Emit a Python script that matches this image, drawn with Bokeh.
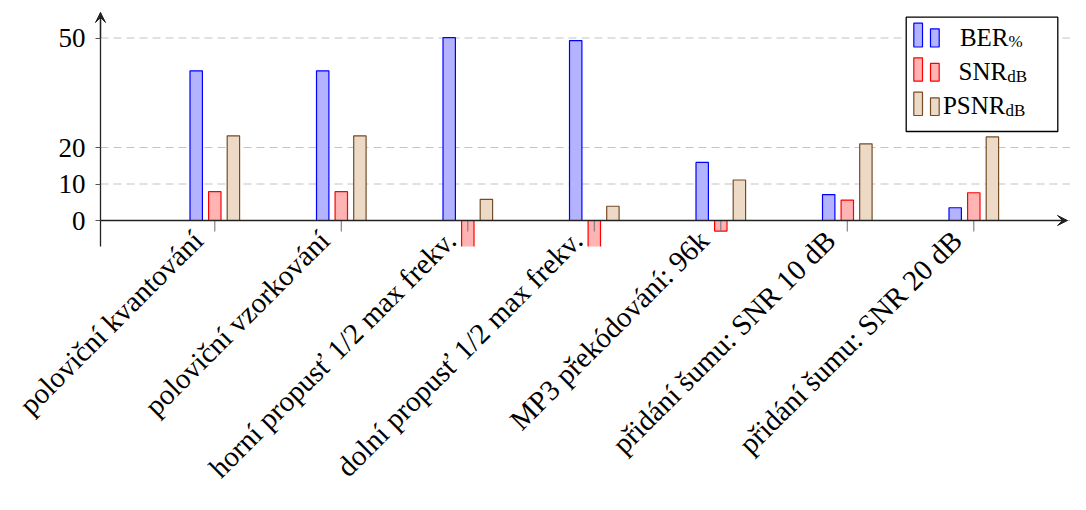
import math
import numpy as np
from bokeh.plotting import figure
from bokeh.models import (ColumnDataSource, FixedTicker, Range1d, Arrow, VeeHead)
from bokeh.transform import dodge
from bokeh.embed import file_html
from bokeh.resources import INLINE

# ---------------- data ----------------
categories = [
    "poloviční kvantování",
    "poloviční vzorkování",
    "horní propusť 1/2 max frekv.",
    "dolní propusť 1/2 max frekv.",
    "MP3 překódování: 96k",
    "přidání šumu: SNR 10 dB",
    "přidání šumu: SNR 20 dB",
]
ber_pct = [41.0, 41.0, 50.1, 49.3, 15.9, 7.1, 3.5]
snr_db = [7.9, 7.9, -12.0, -12.0, -2.9, 5.6, 7.6]
psnr_db = [23.2, 23.2, 5.8, 3.9, 11.1, 21.0, 22.9]
y_ticks = [0, 10, 20, 50]
series_names = ["BER", "SNR", "PSNR"]
series_subs = ["%", "dB", "dB"]

# ---------------- geometry / style ----------------
FONT = "Liberation Serif"
fills = ["#b3b3ff", "#ffb3b3", "#ecd9c6"]
lines = ["#0000ff", "#ff0000", "#734d26"]
W, H = 1070, 494
PX_PER_CAT = 126.5        # pixels between category centres
CAT0_PX = 214.3           # pixel x of first category
PX_PER_UNIT = 3.65        # pixels per y unit
ZERO_PY = 220.0           # pixel y of value 0

def lx(px):
    return (px - CAT0_PX) / PX_PER_CAT

def ly(py):
    return (ZERO_PY - py) / PX_PER_UNIT

X0, X1 = lx(0), lx(W)
Y0, Y1 = ly(H), ly(0)
X_AXIS = lx(100)          # where the y axis sits
X_TIP = lx(1067)
Y_TIP = ly(12)
Y_AXIS_MIN = ly(246)
TICK_END = ly(231)
OFF = 0.147
BW = 0.098
AXIS_COLOR = "#222222"

xs = list(range(len(categories)))
src = ColumnDataSource(dict(x=xs, ber=ber_pct, snr=snr_db, psnr=psnr_db, cat=categories))
grid_src = ColumnDataSource(dict(y=y_ticks))

p = figure(width=W, height=H, x_range=Range1d(X0, X1), y_range=Range1d(Y0, Y1),
           output_backend="svg", toolbar_location=None,
           min_border_left=0, min_border_right=0, min_border_top=0, min_border_bottom=0)
p.outline_line_color = None
p.background_fill_color = "white"
p.border_fill_color = "white"

# dashed horizontal grid (starting at the y axis)
p.xgrid.visible = False
p.ygrid.visible = False
p.segment(x0=X_AXIS, x1=X1, y0="y", y1="y", source=grid_src,
          line_color="#c4c4c4", line_dash="8 5", line_width=1.2)

# bars
for col, off, fc, lc in zip(["ber", "snr", "psnr"], [-OFF, 0.0, OFF], fills, lines):
    p.vbar(x=dodge("x", off), top=col, bottom=0, width=BW, source=src,
           fill_color=fc, line_color=lc, line_width=1.2)

# white mask below the visible axis range (bars are clipped there)
p.quad(left=[X0], right=[X1], top=[Y_AXIS_MIN], bottom=[Y0],
       fill_color="white", line_color=None)

# x axis: line with arrow at y = 0, ticks below, rotated labels
p.xaxis.visible = False
p.add_layout(Arrow(end=VeeHead(size=10, line_color=AXIS_COLOR, fill_color=AXIS_COLOR, line_width=1),
                   x_start=X_AXIS, y_start=0, x_end=X_TIP, y_end=0,
                   line_color=AXIS_COLOR, line_width=1.3))
p.segment(x0="x", x1="x", y0=0, y1=TICK_END, source=src,
          line_color="#7a7a7a", line_width=1.1)
p.text(x="x", y=0, text="cat", source=src, angle=math.pi / 4,
       text_align="right", text_baseline="middle", x_offset=-17, y_offset=15,
       text_font={"value": FONT}, text_font_size={"value": "29px"}, text_color="black")

# y axis
ya = p.yaxis[0]
ya.fixed_location = X_AXIS
ya.ticker = FixedTicker(ticks=y_ticks)
ya.bounds = (Y_AXIS_MIN, Y_TIP)
ya.major_label_text_font = FONT
ya.major_label_text_font_size = "27px"
ya.major_label_text_color = "black"
ya.major_tick_out = 5
ya.major_tick_in = 0
ya.major_tick_line_color = "#555555"
ya.minor_tick_line_color = None
ya.axis_line_color = AXIS_COLOR
ya.axis_line_width = 1.3
ya.major_label_standoff = 10
p.add_layout(Arrow(end=VeeHead(size=10, line_color=AXIS_COLOR, fill_color=AXIS_COLOR, line_width=1),
                   x_start=X_AXIS, y_start=50, x_end=X_AXIS, y_end=Y_TIP,
                   line_color=AXIS_COLOR, line_width=1.3))

# ---------------- legend (drawn by hand for subscripts) ----------------
p.quad(left=[lx(905.7)], right=[lx(1057.3)], top=[ly(16.7)], bottom=[ly(131)],
       fill_color="white", line_color="black", line_width=1.3, level="overlay")
row_tops = [22.7, 57.3, 91.7]
row_base = [46.5, 80.7, 115.0]
sub_base = [51.0, 85.5, 120.0]
split_x = [1008.0, 1006.7, 1005.0]
TXT_SHIFT = 10.0
for i in range(3):
    p.quad(left=[lx(913.3), lx(930.0)], right=[lx(922.0), lx(938.7)],
           top=[ly(row_tops[i]), ly(row_tops[i] + 5.6)],
           bottom=[ly(row_base[i]), ly(row_base[i])],
           fill_color=fills[i], line_color=lines[i], line_width=1.2, level="overlay")
    p.text(x=[lx(split_x[i])], y=[ly(row_base[i] - TXT_SHIFT)], text=[series_names[i]],
           text_align="right", text_baseline="alphabetic",
           text_font={"value": FONT}, text_font_size={"value": "25px"},
           text_color="black", level="overlay")
    p.text(x=[lx(split_x[i])], y=[ly(sub_base[i] - TXT_SHIFT)], text=[series_subs[i]],
           text_align="left", text_baseline="alphabetic",
           text_font={"value": FONT}, text_font_size={"value": "17px"},
           text_color="black", level="overlay")

open("out.html", "w").write(file_html(p, INLINE))
